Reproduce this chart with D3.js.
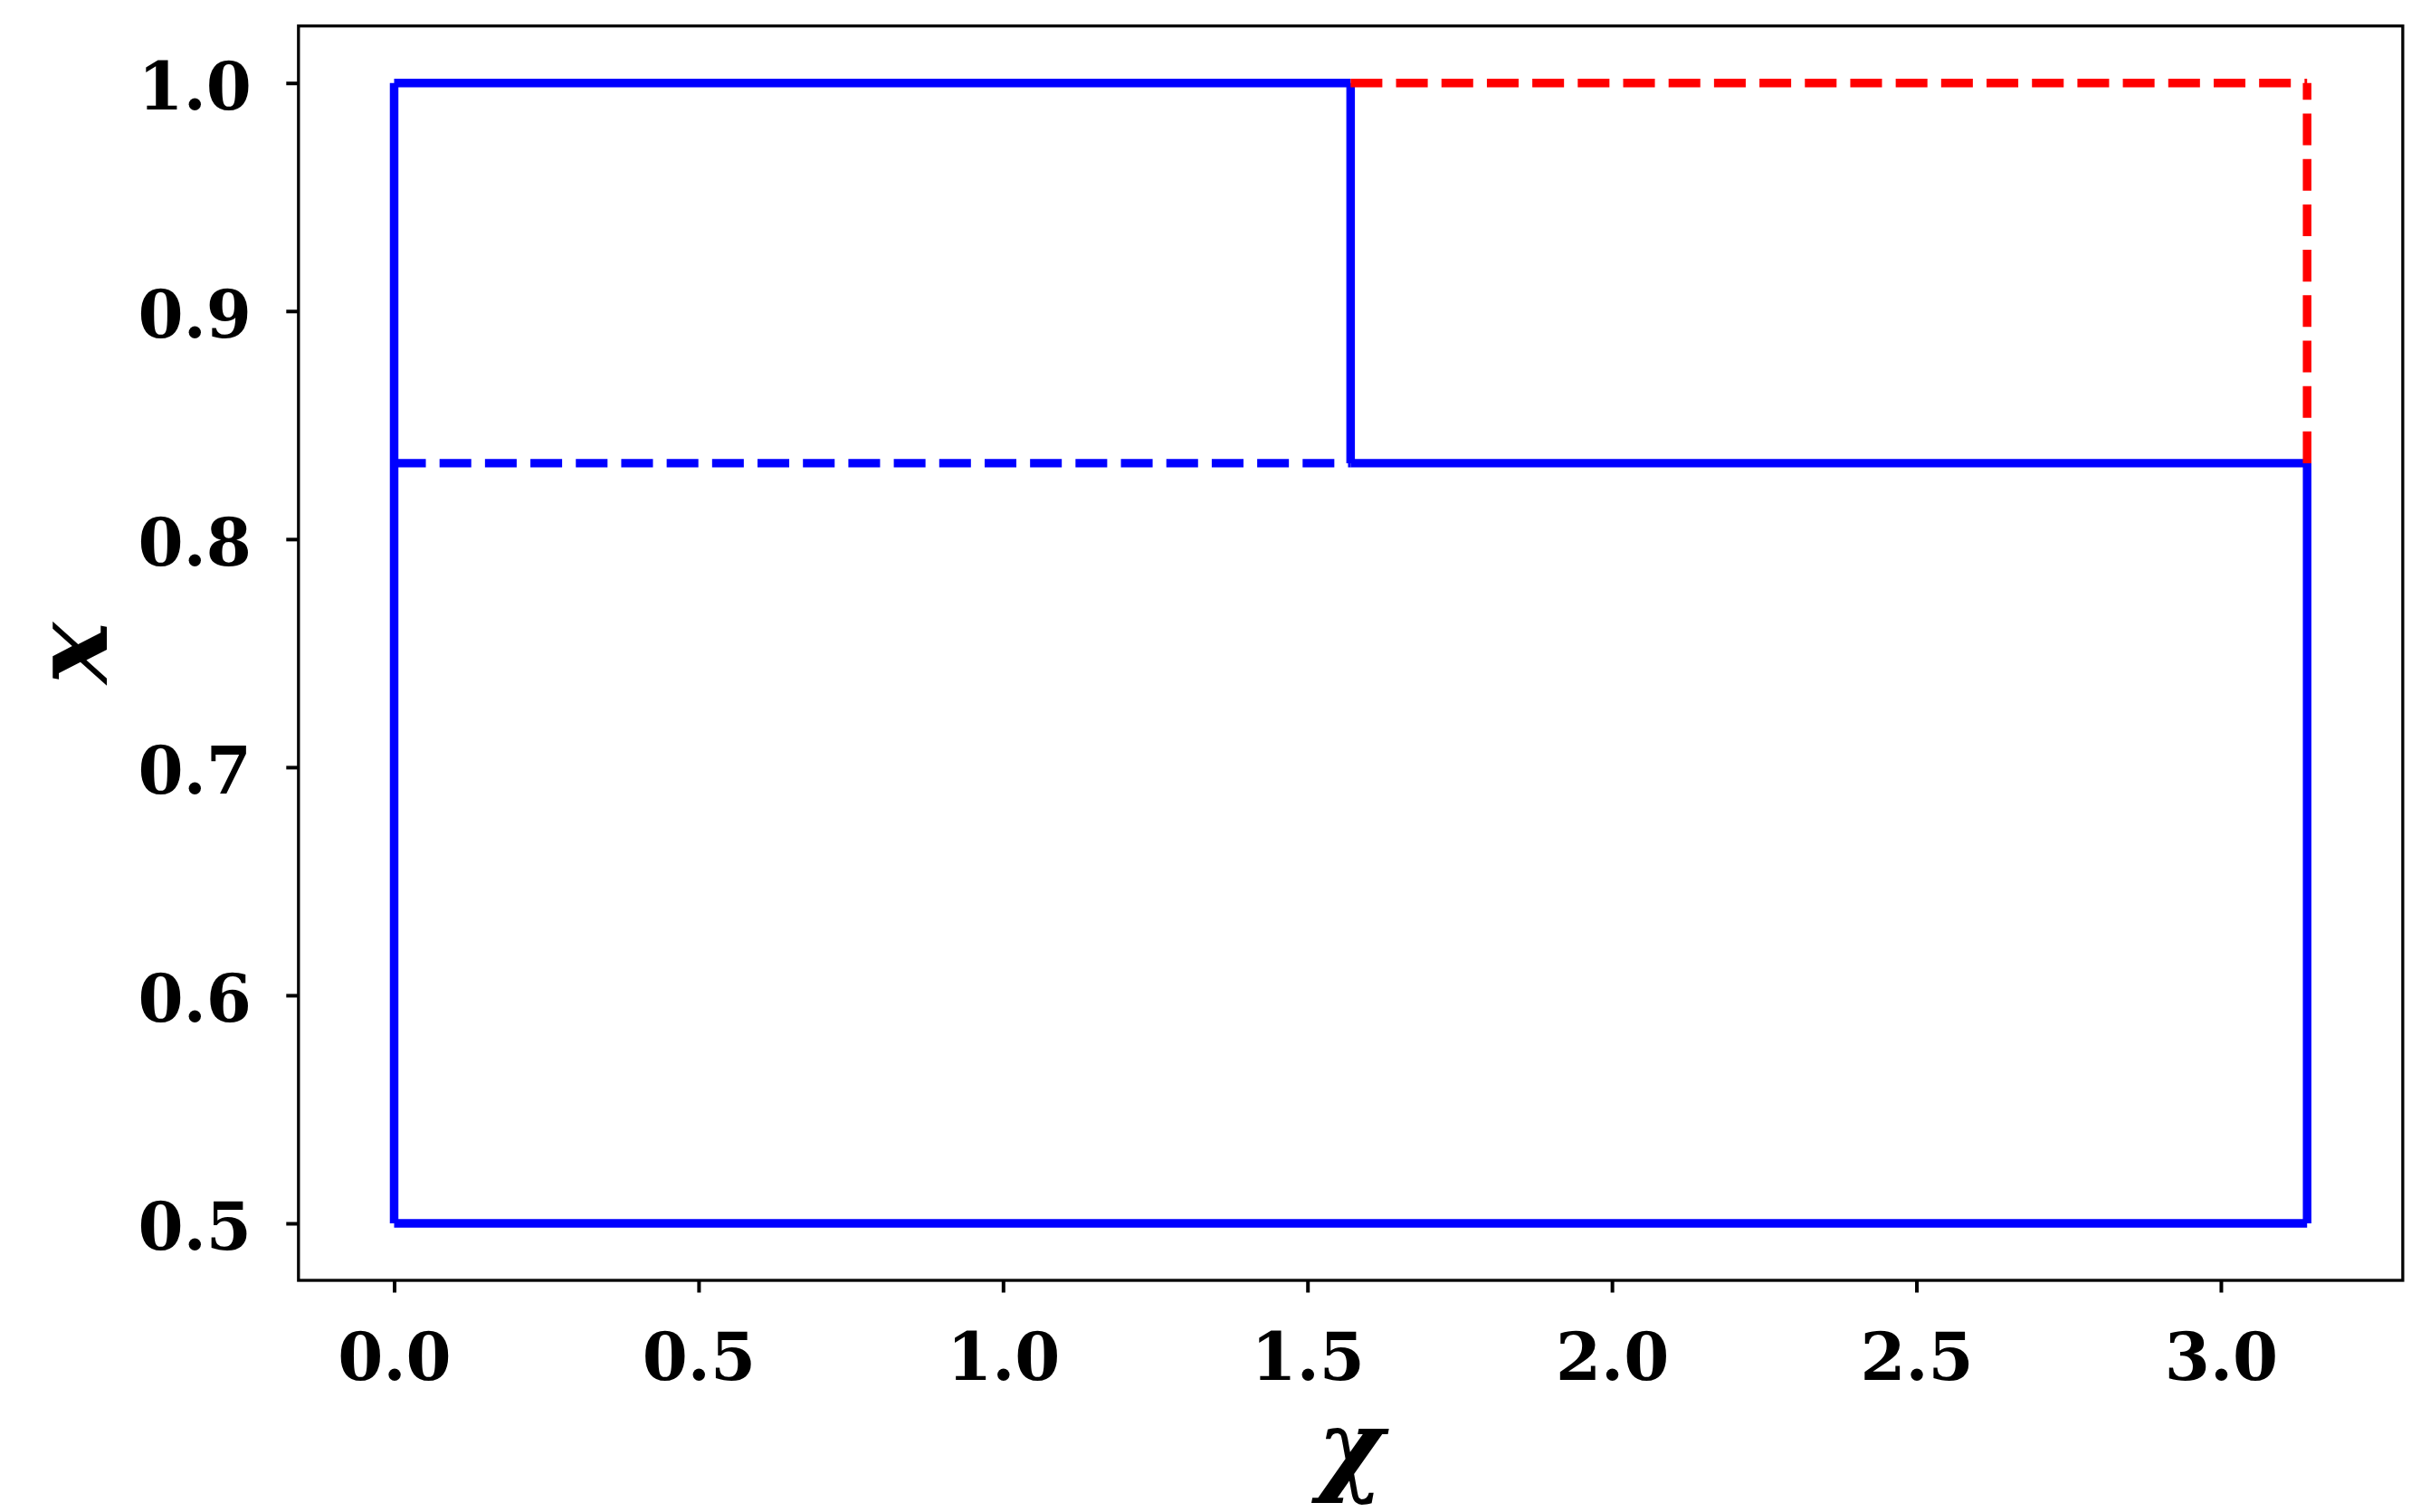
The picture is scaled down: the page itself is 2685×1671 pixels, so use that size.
<!DOCTYPE html>
<html>
<head>
<meta charset="utf-8">
<script src="https://cdn.jsdelivr.net/npm/d3@7"></script>
<style>
  html, body { margin: 0; padding: 0; background: #ffffff; }
  svg { display: block; }
</style>
</head>
<body>
<script>
// ---- data ----
const xTicks = [0.0, 0.5, 1.0, 1.5, 2.0, 2.5, 3.0];
const yTicks = [0.5, 0.6, 0.7, 0.8, 0.9, 1.0];
const xDataRange = [0, 3.14159];
const yDataRange = [0.5, 1.0];
// each segment: [[x0, y0], [x1, y1]]
const blueSolid = [
  [[0, 0.5], [0, 1.0]],
  [[0, 1.0], [1.5708, 1.0]],
  [[1.5708, 0.8333], [1.5708, 1.0]],
  [[1.5708, 0.8333], [3.14159, 0.8333]],
  [[3.14159, 0.5], [3.14159, 0.8333]],
  [[0, 0.5], [3.14159, 0.5]]
];
const blueDashed = [
  [[0, 0.8333], [1.5708, 0.8333]]
];
const redDashed = [
  [[1.5708, 1.0], [3.14159, 1.0]],
  [[3.14159, 0.8333], [3.14159, 1.0]]
];
const xLabel = "χ";
const yLabel = "x";

// ---- layout ----
const W = 2685, H = 1671;
const plot = { left: 329.8, right: 2654.9, top: 28.7, bottom: 1415 };
const lw = 9.47;
const dash = [3.7 * lw, 1.6 * lw];
const tickFont = "'DejaVu Serif', serif";

const svg = d3.select("body").append("svg")
  .attr("width", W).attr("height", H)
  .attr("viewBox", `0 0 ${W} ${H}`);
svg.append("rect").attr("width", W).attr("height", H).attr("fill", "#ffffff");

const xPad = 0.05 * (xDataRange[1] - xDataRange[0]);
const yPad = 0.05 * (yDataRange[1] - yDataRange[0]);
const x = d3.scaleLinear()
  .domain([xDataRange[0] - xPad, xDataRange[1] + xPad])
  .range([plot.left, plot.right]);
const y = d3.scaleLinear()
  .domain([yDataRange[0] - yPad, yDataRange[1] + yPad])
  .range([plot.bottom, plot.top]);

const fmt = d3.format(".1f");

// ---- axes ----
const xAxis = svg.append("g")
  .attr("transform", `translate(0,${plot.bottom})`)
  .call(d3.axisBottom(x).tickValues(xTicks).tickFormat(fmt).tickSize(13.5).tickSizeOuter(0));
const yAxis = svg.append("g")
  .attr("transform", `translate(${plot.left},0)`)
  .call(d3.axisLeft(y).tickValues(yTicks).tickFormat(fmt).tickSize(13.5).tickSizeOuter(0));

[xAxis, yAxis].forEach(g => {
  g.select(".domain").remove();
  g.selectAll(".tick line").attr("stroke", "#000").attr("stroke-width", 4);
  g.selectAll(".tick text")
    .attr("fill", "#000")
    .style("font-family", tickFont)
    .style("font-weight", "bold")
    .style("font-size", "72px");
});
xAxis.selectAll(".tick text").attr("y", 110).attr("dy", 0);
yAxis.selectAll(".tick text").attr("x", -52).attr("dy", 0).attr("y", 29);

// frame
svg.append("rect")
  .attr("x", plot.left).attr("y", plot.top)
  .attr("width", plot.right - plot.left).attr("height", plot.bottom - plot.top)
  .attr("fill", "none").attr("stroke", "#000").attr("stroke-width", 3.3);

// ---- lines ----
const line = d3.line().x(d => x(d[0])).y(d => y(d[1]));
function drawSegments(segs, color, dashed) {
  svg.append("g").selectAll("path").data(segs).join("path")
    .attr("d", d => line(d))
    .attr("fill", "none")
    .attr("stroke", color)
    .attr("stroke-width", lw)
    .attr("stroke-linecap", "butt")
    .attr("stroke-dasharray", dashed ? dash.join(",") : null);
}
drawSegments(blueSolid, "#0000ff", false);
drawSegments(blueDashed, "#0000ff", true);
drawSegments(redDashed, "#ff0000", true);

// ---- axis labels ----
svg.append("text")
  .attr("x", (plot.left + plot.right) / 2)
  .attr("y", 1638)
  .attr("text-anchor", "middle")
  .style("font-family", tickFont)
  .style("font-weight", "bold")
  .style("font-style", "italic")
  .style("font-size", "112px")
  .text(xLabel);

svg.append("text")
  .attr("transform", `translate(118,${(plot.top + plot.bottom) / 2}) rotate(-90)`)
  .attr("text-anchor", "middle")
  .style("font-family", tickFont)
  .style("font-weight", "bold")
  .style("font-style", "italic")
  .style("font-size", "114px")
  .text(yLabel);
</script>
</body>
</html>
